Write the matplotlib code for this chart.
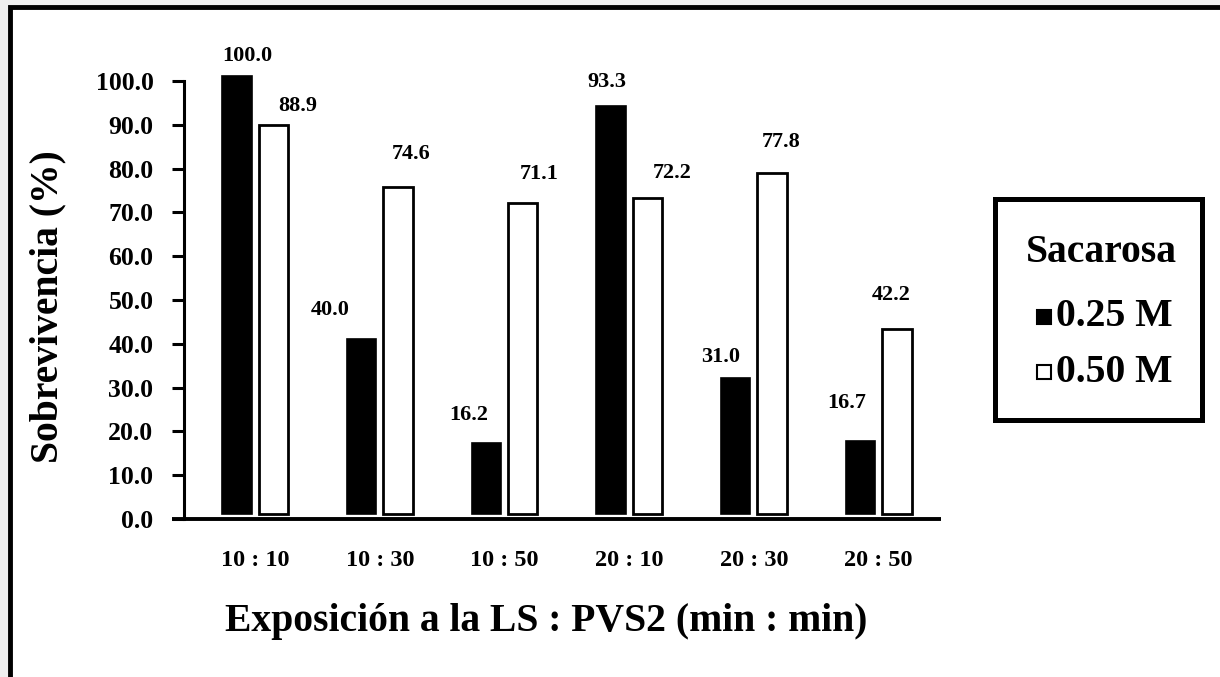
import numpy as np
import matplotlib
matplotlib.use('Agg')
import matplotlib.pyplot as plt
from matplotlib.patches import Rectangle

# ====== DATOS ======
tratamientos = ['10 : 10', '10 : 30', '10 : 50', '20 : 10', '20 : 30', '20 : 50']
sac_025 = [100.0, 40.0, 16.2, 93.3, 31.0, 16.7]
sac_050 = [88.9, 74.6, 71.1, 72.2, 77.8, 42.2]
etiquetas_025 = ['100.0', '40.0', '16.2', '93.3', '31.0', '16.7']
etiquetas_050 = ['88.9', '74.6', '71.1', '72.2', '77.8', '42.2']
series = ['0.25 M', '0.50 M']

# desplazamientos (pixeles) de las etiquetas respecto a la punta de cada barra
dx_025 = [10, -31, -18, -4, -15, -14]
dy_025 = [20, 29, 28, 24, 21, 38]
dx_050 = [24, 13, 16, 25, 9, -6]
dy_050 = [19, 33, 29, 25, 31, 34]

plt.rcParams['font.family'] = ['Liberation Serif', 'DejaVu Serif']
plt.rcParams['font.weight'] = 'bold'

W, H = 1220, 677
fig = plt.figure(figsize=(W / 100, H / 100), dpi=100)
fig.patch.set_facecolor('#efefef')

# marco de la figura
marco = Rectangle((10 / W, -0.1), 1.2, (H - 7) / H + 0.1, transform=fig.transFigure,
                  facecolor='white', edgecolor='black', linewidth=3.5, zorder=-10)
fig.patches.append(marco)

ax = fig.add_axes([184 / W, (H - 519) / H, (941 - 184) / W, (519 - 81) / H])
ax.patch.set_alpha(0)
ax.set_zorder(5)

x = np.arange(len(tratamientos))
ancho = 0.236
base = 1.1
b1 = ax.bar(x - 0.146, np.array(sac_025), ancho, bottom=base, color='black',
            edgecolor='black', linewidth=1.2, clip_on=False)
b2 = ax.bar(x + 0.146, np.array(sac_050), ancho, bottom=base, color='white',
            edgecolor='black', linewidth=2.0, clip_on=False)

for i in range(len(x)):
    ax.annotate(etiquetas_025[i], (x[i] - 0.146, sac_025[i] + base),
                xytext=(dx_025[i], dy_025[i]), textcoords='offset pixels',
                ha='center', va='center', fontsize=16, fontweight='bold',
                annotation_clip=False)
    ax.annotate(etiquetas_050[i], (x[i] + 0.146, sac_050[i] + base),
                xytext=(dx_050[i], dy_050[i]), textcoords='offset pixels',
                ha='center', va='center', fontsize=16, fontweight='bold',
                annotation_clip=False)

ax.set_xlim(-0.57, 5.5)
ax.set_ylim(0, 100)
ax.set_yticks(np.arange(0, 101, 10))
ax.set_yticklabels(['%.1f' % v for v in np.arange(0, 101, 10)], fontsize=18.5, fontweight='bold')
ax.set_xticks(x)
ax.set_xticklabels(tratamientos, fontsize=17.5, fontweight='bold')
ax.tick_params(axis='y', length=9, width=2.2, pad=13)
ax.tick_params(axis='x', length=0, pad=22)

for lado in ['top', 'right']:
    ax.spines[lado].set_visible(False)
ax.spines['left'].set_linewidth(2.2)
ax.spines['bottom'].set_linewidth(2.8)
ax.spines['bottom'].set_bounds(-0.67, 5.5)
ax.spines['bottom'].set_capstyle('butt')

fig.text(48 / W, 1 - 307 / H, 'Sobrevivencia (%)', rotation=90, ha='center', va='center',
         fontsize=28.5, fontweight='bold')
fig.text(546 / W, 1 - 621 / H, 'Exposición a la LS : PVS2 (min : min)', ha='center',
         va='center', fontsize=28.5, fontweight='bold')

# leyenda
leyenda = Rectangle((995 / W, 1 - 420 / H), 207 / W, 221 / H, transform=fig.transFigure,
                    facecolor='white', edgecolor='black', linewidth=3.6, zorder=1)
fig.patches.append(leyenda)
fig.text(1101 / W, 1 - 253 / H, 'Sacarosa', ha='center', va='center', fontsize=28.5,
         fontweight='bold', zorder=2)
colores = ['black', 'white']
filas_y = [317, 372]
for nombre, col, yy in zip(series, colores, filas_y):
    cuadro = Rectangle((1037 / W, 1 - (yy + 7) / H), 14 / W, 14 / H, transform=fig.transFigure,
                       facecolor=col, edgecolor='black', linewidth=1.5, zorder=2)
    fig.patches.append(cuadro)
    fig.text(1056 / W, 1 - yy / H, nombre, ha='left', va='center', fontsize=28.5,
             fontweight='bold', zorder=2)

fig.savefig('out.png', dpi=100, facecolor=fig.get_facecolor())
